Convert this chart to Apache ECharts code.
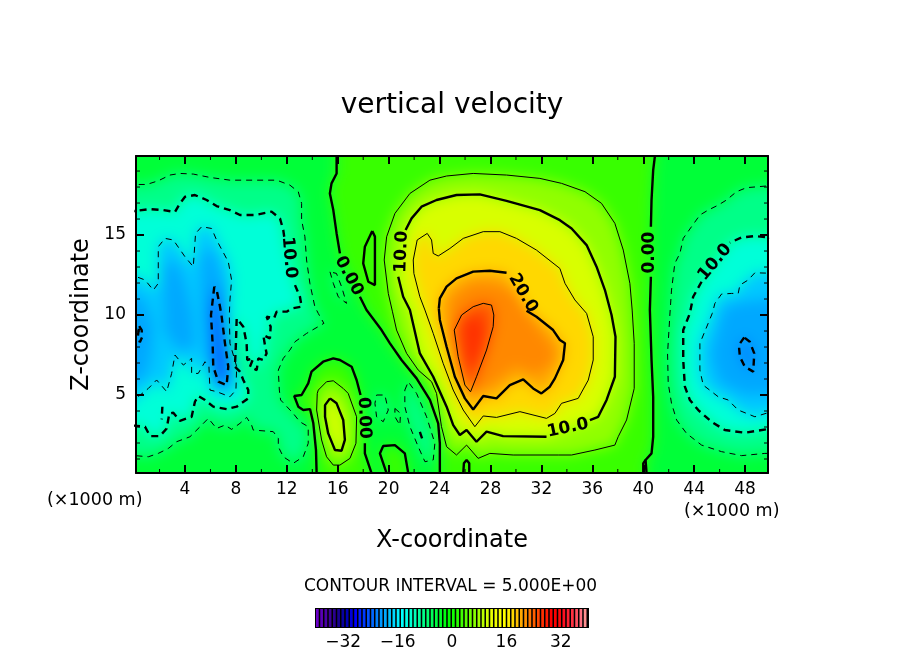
<!DOCTYPE html>
<html>
<head>
<meta charset="utf-8">
<style>
html,body{margin:0;background:#fff}
#shade,#main{position:absolute;left:0;top:0;width:904px;height:654px}
#shade{filter:blur(7px);clip-path:inset(156px 136px 181px 136px)}
</style>
<script src="https://cdn.jsdelivr.net/npm/echarts@6/dist/echarts.min.js"></script>
</head>
<body>
<div id="shade"></div>
<div id="main"></div>
<script>
// axis ticks
var xMajor = [4, 8, 12, 16, 20, 24, 28, 32, 36, 40, 44, 48];
var xMinor = [2, 6, 10, 14, 18, 22, 26, 30, 34, 38, 42, 46];
var zMajor = [5, 10, 15];
var zMinor = [1, 2, 3, 4, 6, 7, 8, 9, 11, 12, 13, 14, 16, 17, 18, 19];

// contour paths as [x, z] in km
var zeroMainA = [[15.91,19.9],[15.91,18.85],[15.51,18.23],[15.38,17.6],[15.65,16.56],[15.91,15.1],[16.17,13.85]];
var zeroMainB = [[17.74,11.14],[18.26,10.31],[19.44,9.06],[20.1,8.23],[21.01,7.19],[22.19,6.04],[23.24,4.69],[23.89,3.23],[24.02,1.98],[24.02,0.73],[24.02,0.1]];
var zeroRightA = [[40.91,19.9],[40.78,19.06],[40.65,17.19],[40.6,15.52]];
var zeroRightB = [[40.6,12.39],[40.52,10.31],[40.65,7.19],[40.78,4.89],[40.78,2.39],[40.65,1.35],[40.18,0.94],[40.26,0.1]];
var zeroRightFork = [[40.18,0.94],[40,0.73],[40,0.1]];
var zeroBlobA = [[14.34,0.1],[14.29,1.56],[14.08,3.23],[13.82,4.12],[13.29,4.06],[12.9,4.27],[12.58,4.94],[13.16,5],[13.68,5.73],[13.94,6.46],[14.85,7.08],[15.65,7.29],[16.17,7.19],[17.09,6.77],[17.48,5.94],[17.79,5]];
var zeroBlobB = [[18.13,1.98],[18.13,1.35],[18.66,0.1]];
var zeroDome = [[19.84,0.1],[19.31,1.35],[19.57,1.81],[20.49,1.87],[21.27,1.35],[21.54,0.1]];
var zeroNub = [[25.86,0.1],[25.91,0.73],[26.12,0.94],[26.33,0.73],[26.33,0.1]];
var zeroLens = [[18.71,15.25],[18.13,14.27],[18,13.23],[18.4,12.08],[18.92,11.87],[18.92,13.64],[18.92,14.9],[18.71,15.25]];

var pos5Main = [[20.3,10.2],[20.62,9.06],[21.41,7.6],[22.32,6.56],[23.37,5.83],[23.76,5.1],[24.15,3.02],[24.55,1.77],[25.33,1.25],[26.12,1.87],[27.03,1.04],[27.95,1.35],[29.78,1.25],[33.32,1.25],[34.37,1.25],[36.2,1.56],[37.77,1.87],[38.03,2.39],[38.69,3.44],[39.29,5.41],[39.29,8.23],[39.13,10.31],[38.95,11.98],[38.43,14.06],[37.77,15.73],[36.72,16.98],[35.42,17.71],[33.58,18.23],[31.88,18.54],[29.26,18.75],[26.64,18.85],[24.55,18.69],[23.24,18.43],[21.67,17.6],[20.49,16.35],[19.84,14.89],[19.65,13.44],[19.97,11.35],[20.3,10.2]];
var pos5Blob = [[14.39,5.1],[14.47,5.31],[15.12,5.83],[15.65,5.89],[16.43,5.41],[16.82,5.1],[17.48,3.64],[17.43,1.98],[16.96,1.04],[16.17,0.62],[15.65,0.62],[15.12,1.14],[14.73,2.19],[14.34,4.06],[14.39,5.1]];
var pos10Blob = [[15.39,4.79],[15,4.37],[15,3.64],[15.25,2.6],[15.78,1.56],[16.3,1.52],[16.56,2.19],[16.43,3.44],[15.91,4.48],[15.39,4.79]];
var pos10A = [[21.33,15.31],[21.8,16.04],[22.58,16.77],[23.76,17.19],[25.33,17.5],[27.16,17.54],[29.26,17.14],[31.88,16.56],[33.45,15.93],[34.37,15.41],[35.55,14.37],[36.33,13.02],[36.99,11.56],[37.51,10],[37.82,8.64],[37.77,6.14],[37.12,4.69],[36.46,3.64],[35.81,3.43]];
var pos10B = [[32.4,2.39],[28.99,2.43],[27.69,2.71],[26.9,2.08],[26.12,2.81],[25.59,2.5],[25.07,3.12],[24.55,4.27],[23.5,6.14],[22.45,7.6],[21.67,10.31],[21.14,11.14],[20.75,12.39]];
var pos15 = [[21.98,12.6],[21.93,13.44],[22.24,14.69],[23.03,15.1],[23.37,14.69],[23.5,13.85],[23.89,13.69],[24.81,14.16],[25.86,14.79],[27.43,15.21],[28.74,15.21],[30.04,14.79],[31.61,14.06],[33.45,12.91],[33.85,11.98],[34.63,10.94],[35.55,10.1],[36.07,8.64],[36.07,7.19],[35.68,5.93],[34.89,4.79],[33.58,4.48],[33.06,3.85],[32.4,3.54],[30.31,3.96],[28.47,3.6],[27.43,3.69],[26.77,3.02],[25.86,4.06],[25.07,5.31],[24.28,6.98],[23.5,8.85],[22.85,10.31],[22.45,11.14],[21.98,12.6]];
var pos20A = [[23.94,10.41],[24.02,11.04],[24.55,11.77],[25.33,12.29],[26.64,12.71],[27.95,12.77],[29.26,12.64]];
var pos20B = [[30.83,10.27],[31.61,9.89],[32.92,9.06],[33.45,8.44],[33.85,8.23],[33.71,7.19],[33.06,6.04],[32.66,5.52],[32,5.1],[31.35,5.41],[30.57,5.98],[29.52,5.62],[28.47,4.79],[27.43,4.94],[26.64,4.1],[25.99,4.79],[25.2,6.14],[24.55,8.02],[24.02,9.69],[23.94,10.41]];
var pos25 = [[25.73,10],[26.64,10.52],[27.43,10.73],[28.08,10.62],[28.26,10],[28.21,9.27],[27.69,7.81],[26.9,6.14],[26.43,5.2],[25.99,5.62],[25.46,7.39],[25.15,9.06],[25.73,10]];

var neg5Left = [[-0.5,18.16],[0.99,18.16],[1.9,18.39],[2.82,18.75],[3.6,18.85],[4.65,18.81],[5.96,18.6],[7.53,18.43],[9.36,18.43],[11.2,18.43],[12.24,18.12],[12.9,17.7],[13.16,16.98],[13.16,15.94],[13.42,14.89],[13.55,13.44],[13.81,11.98],[14.2,10.52],[14.47,10.1],[14.91,9.48],[13.55,8.85],[12.64,8.33],[12.24,7.81],[11.72,7.29],[11.33,6.56],[11.41,5.31],[11.51,4.69],[12.5,3.85],[13.02,3.33],[13.68,3.02],[13.68,1.98],[13.29,1.14],[12.5,0.73],[11.72,1.14],[11.33,1.77],[11.33,2.29],[10.93,2.71],[9.36,2.81],[9.23,3.12],[8.84,3.6],[8.32,3.23],[7.66,2.85],[7.14,3.12],[6.48,2.91],[5.83,3.54],[5.31,3.12],[4.39,2.39],[3.34,2.08],[2.69,1.66],[1.9,1.35],[1.12,1.14],[-0.5,1.25]];
var neg5Small = [[15.39,12.7],[15.65,11.98],[16.04,11.14],[16.69,10.73],[16.3,11.77],[15.9,12.6],[15.39,12.7]];
var neg5LoopA = [[19.05,5],[19.7,5],[19.97,4.06],[19.57,3.33],[19.05,3.64],[18.92,4.48],[19.05,5]];
var neg5LoopB = [[20.49,4.16],[20.93,3.85],[20.88,3.12],[20.49,3.64],[20.49,4.16]];
var neg5LoopC = [[21.27,5.31],[21.54,5.83],[22.19,5.1],[22.98,3.64],[23.63,1.98],[23.5,0.94],[22.85,0.83],[22.32,1.77],[21.67,3.02],[21.27,4.27],[21.27,5.31]];
var neg5Right = [[50.5,18.12],[48.11,17.96],[47.33,17.71],[46.54,17.19],[45.89,16.87],[45.1,16.56],[44.45,16.25],[43.79,15.52],[43.14,14.79],[42.88,13.85],[42.48,13.23],[42.22,11.56],[42.09,10],[41.91,7.6],[41.96,5.73],[42.22,4.48],[42.62,3.44],[43.4,2.6],[44.58,1.87],[46.15,1.46],[47.72,1.21],[49.55,1.35],[50.5,1.35]];

var neg10LeftA = [[-0.5,16.45],[1.25,16.62],[2.3,16.56],[3.21,16.44],[3.6,16.98],[4,17.39],[4.78,17.5],[5.7,17.19],[6.48,16.81],[7.53,16.56],[8.32,16.25],[9.49,16.25],[10.8,16.46],[11.46,16.04],[11.72,15.31],[11.85,14.58]];
var neg10LeftB = [[12.64,11.87],[13.03,11.14],[13.16,10.52],[12.38,10.41],[11.98,10.21],[11.2,10.21],[10.99,9.79],[10.41,9.89],[10.73,9.27],[10.67,8.54],[10.15,8.75],[10.28,8.12],[10.41,7.6],[10.15,7.19],[9.76,7.29],[9.63,6.56],[9.1,6.77],[9.36,7.29],[8.89,7.19],[8.84,8.23],[8.58,9.27],[8.06,9.79],[8,8.23],[7.92,6.77],[8.32,6.46],[8.58,5.94],[8.97,5.31],[8.97,4.79],[8.06,4.27],[7.27,4.12],[6.22,4.27],[5.57,4.69],[5.04,4.94],[4.78,4.58],[4.52,3.64],[3.6,3.39],[3.08,3.89],[2.77,3.85],[2.56,2.91],[2.03,2.43],[1.25,2.43],[0.86,3.02],[-0.5,3.12]];
var neg10Piece = [[2.22,4.27],[2.17,3.48]];
var neg10Valley = [[22.45,2.7],[22.71,2.08]];
var neg10RightA = [[50.5,14.79],[48.77,14.94],[47.72,14.85],[46.8,14.52]];
var neg10RightB = [[44.58,12.08],[43.92,11.14],[43.66,10.1],[43.14,9.06],[43.14,7.19],[43.27,5.52],[43.66,4.69],[44.32,4.06],[45.36,3.33],[46.41,2.81],[47.98,2.64],[50.5,2.96]];

var neg15Left = [[-0.5,12.6],[0.86,12.19],[1.51,11.56],[1.9,11.98],[1.9,14.27],[2.43,14.79],[3.08,14.69],[4,13.64],[4.65,13.02],[4.83,15.1],[5.31,15.52],[6.09,15.41],[6.48,14.69],[7.4,13.33],[7.66,12.19],[7.53,10.94],[7.48,10],[7.53,8.23],[8.06,6.77],[8,5.31],[7.53,4.89],[6.48,5.21],[5.96,5.31],[5.88,6.77],[5.57,7.08],[5.04,6.35],[4.52,6.35],[4.52,7.29],[3.87,6.87],[3.21,7.5],[2.95,6.35],[2.56,5.21],[1.77,5.94],[1.12,5.41],[-0.5,4.37]];
var neg15Right = [[50.5,12.6],[48.77,12.64],[48.24,12.19],[47.59,11.87],[47.46,11.35],[46.93,11.35],[46.15,11.31],[45.63,10.73],[45.42,10.1],[45.1,9.48],[44.45,8.23],[44.45,6.56],[44.71,5.62],[45.89,4.89],[46.67,4.69],[47.46,4.06],[48.77,3.64],[50.5,4.06]];

var neg20Left = [[6.3,11.77],[6.04,10],[6.17,8.23],[6.22,6.77],[6.62,5.83],[7.27,5.62],[7.4,6.77],[7.14,8.23],[6.88,9.9],[6.75,10.52],[6.5,11.5],[6.3,11.77]];
var neg20Edge = [[0.4,9.3],[0.6,9.05],[0.62,8.6],[0.45,8.3],[0.3,8.7],[0.4,9.3]];
var neg20Right = [[47.93,8.6],[47.51,8.12],[47.59,7.39],[47.98,6.77],[48.64,6.46],[48.72,7.6],[48.37,8.33],[47.93,8.6]];

// extra shading levels between the drawn contours
var shadeOrange = [[24.8,11],[26.5,12],[28,12],[30,11.5],[32,9],[33,8],[33,7],[31.5,6.2],[30,6.8],[28,5.6],[26.5,5],[25.5,6.5],[24.8,9]];
var shadeRed = [[25.8,9.6],[27,10],[27.6,9],[27.2,7.5],[26.5,6.3],[26,7.5]];
var shadeLeftA = [[2.3,13],[3.2,13.5],[4,12],[4.6,10],[4.8,8],[3.5,7.8],[2.4,9]];
var shadeLeftB = [[-3,12],[0.8,11],[1.5,9.5],[1.4,7.5],[0.8,6],[-3,5.5]];
var shadeLeftC = [[5.3,14],[6.2,14],[7.2,11.5],[7.4,8],[7.5,5.5],[6.2,5.6],[5.6,8],[5.3,11]];
var shadeRight = [[46.3,10.4],[47.5,10.8],[53,11.2],[53,5.2],[48,5],[46,5.8],[45.3,7.5]];

// colour of the band just beyond each level
var levelColors = {
  '-24': '#0060ff', '-20': '#0088ff', '-17.5': '#00a8ff', '-15': '#00c8ff', '-10': '#00ffd8', '-5': '#00ff88', '-1': '#00ff38', '0': '#38ff00',
  '5': '#90ff00', '10': '#d8ff00', '15': '#ffd800', '20': '#ffa800', '22.5': '#ff8800', '25': '#ff5000', '27': '#ff3000'
};

// colour bar levels and their colours
var barLevels = [-40,-38.75,-37.5,-36.25,-35,-33.75,-32.5,-31.25,-30,-28.75,-27.5,-26.25,-25,-23.75,-22.5,-21.25,-20,-18.75,-17.5,-16.25,-15,-13.75,-12.5,-11.25,-10,-8.75,-7.5,-6.25,-5,-3.75,-2.5,-1.25,0,1.25,2.5,3.75,5,6.25,7.5,8.75,10,11.25,12.5,13.75,15,16.25,17.5,18.75,20,21.25,22.5,23.75,25,26.25,27.5,28.75,30,31.25,32.5,33.75,35,36.25,37.5,38.75];
var barColors = ['#6a00c8','#5a00b8','#4a00a8','#3c0098','#2a0090','#180090','#0800a0','#0000b8','#0000d8','#0000ff','#0020ff','#0038ff','#0050ff','#0068ff','#0080ff','#0098ff','#00a8ff','#00c0ff','#00d8ff','#00f0ff','#00ffff','#00ffe8','#00ffd0','#00ffb8','#00ffa0','#00ff88','#00ff70','#00ff58','#00ff40','#00ff28','#00ff10','#00ff00','#10ff00','#28ff00','#40ff00','#58ff00','#70ff00','#88ff00','#a0ff00','#b8ff00','#d0ff00','#e8ff00','#f0ff00','#f8ff00','#ffff00','#fff000','#ffd800','#ffc000','#ffa800','#ff9000','#ff7800','#ff6000','#ff4800','#ff3000','#ff1800','#ff0000','#ff0000','#ff0808','#ff1020','#ff2030','#ff3040','#ff5060','#ff7080','#ff9090'];
var barTicks = [-32, -16, 0, 16, 32];

// contour labels
var labelX = [12.17, 16.87, 21.02, 30.55, 34.08, 18.06, 40.5, 45.63];
var labelZ = [13.6, 12.44, 13.95, 11.37, 2.94, 3.56, 13.9, 13.3];
var labelText = ['10.0', '0.00', '10.0', '20.0', '10.0', '0.00', '0.00', '10.0'];
var labelAngle = [-85, -62, 88, -60, 12, -88, 90, 50];

var xMin = 0.15, xMax = 49.8, zMin = 0.125, zMax = 19.94;
var fontName = '"DejaVu Sans"';

var lines = [
  [zeroMainA, 0], [zeroMainB, 0], [zeroRightA, 0], [zeroRightB, 0], [zeroRightFork, 0], [zeroBlobA, 0], [zeroBlobB, 0], [zeroDome, 0], [zeroNub, 0], [zeroLens, 0],
  [pos5Main, 5], [pos5Blob, 5], [pos10Blob, 10], [pos10A, 10], [pos10B, 10], [pos15, 15], [pos20A, 20], [pos20B, 20], [pos25, 25],
  [neg5Left, -5], [neg5Small, -5], [neg5LoopA, -5], [neg5LoopB, -5], [neg5LoopC, -5], [neg5Right, -5],
  [neg10LeftA, -10], [neg10LeftB, -10], [neg10Piece, -10], [neg10Valley, -10], [neg10RightA, -10], [neg10RightB, -10],
  [neg15Left, -15], [neg15Right, -15], [neg20Left, -20], [neg20Edge, -20], [neg20Right, -20]
];

// filled regions, painted in this order
var fills = [
  [[[-3,22],[15.91,22]].concat(zeroMainA, zeroMainB, [[24.02,-2],[-3,-2]]), '-1'],
  [[[53,22],[40.91,22]].concat(zeroRightA, zeroRightB, [[40.26,-2],[53,-2]]), '-1'],
  [[[15.91,22]].concat(zeroMainA, zeroMainB, [[24.02,-2],[40.26,-2]], zeroRightB.slice().reverse(), zeroRightA.slice().reverse(), [[40.91,22]]), '0'],
  [[[14.34,-2]].concat(zeroBlobA, zeroBlobB, [[18.66,-2]]), '0'],
  [zeroDome.concat([[21.54,-2],[19.84,-2]]), '0'],
  [zeroLens, '0'],
  [neg5Left.concat([[-3,1.25],[-3,18.16]]), '-5'],
  [neg5Right.concat([[53,1.35],[53,18.12]]), '-5'],
  [neg5LoopC, '-5'], [neg5LoopA, '-5'], [neg5LoopB, '-5'], [neg5Small, '-5'],
  [neg10LeftA.concat(neg10LeftB, [[-3,3.12],[-3,16.45]]), '-10'],
  [neg10RightA.concat(neg10RightB, [[53,2.96],[53,14.79]]), '-10'],
  [neg15Left.concat([[-3,4.37],[-3,12.6]]), '-15'],
  [neg15Right.concat([[53,4.06],[53,12.6]]), '-15'],
  [shadeLeftA, '-17.5'], [shadeLeftB, '-17.5'], [shadeLeftC, '-17.5'], [shadeRight, '-17.5'],
  [neg20Left, '-24'], [neg20Edge, '-20'], [neg20Right, '-20'],
  [pos5Main, '5'], [pos5Blob, '5'], [pos10Blob, '10'],
  [pos10A.concat(pos10B), '10'],
  [pos15, '15'],
  [pos20A.concat(pos20B), '20'],
  [shadeOrange, '22.5'],
  [pos25, '25'],
  [shadeRed, '27']
];

function renderFill(params, api) {
  var item = fills[params.dataIndex];
  return {
    type: 'polygon',
    shape: { points: item[0].map(function (p) { return api.coord(p); }) },
    style: { fill: levelColors[item[1]] }
  };
}

function renderMinorTicks(params, api) {
  var isX = params.seriesName === 'xMinor';
  var v = api.value(0);
  var a = isX ? api.coord([v, zMin]) : api.coord([xMin, v]);
  var b = isX ? api.coord([v, zMax]) : api.coord([xMax, v]);
  var dx = isX ? 0 : 4, dy = isX ? 4 : 0;
  var st = { stroke: '#000', lineWidth: 1 };
  return {
    type: 'group',
    children: [
      { type: 'line', shape: { x1: a[0], y1: a[1], x2: a[0] + dx, y2: a[1] - dy }, style: st },
      { type: 'line', shape: { x1: b[0], y1: b[1], x2: b[0] - dx, y2: b[1] + dy }, style: st }
    ]
  };
}

function renderBar(params, api) {
  var a = api.coord([api.value(0), 1]);
  var b = api.coord([api.value(0) + 0.8, 0]);
  return {
    type: 'rect',
    shape: { x: a[0], y: a[1], width: b[0] - a[0], height: b[1] - a[1] },
    style: { fill: barColors[params.dataIndex] }
  };
}

// the soft colour field sits in its own chart, under the contours
var shadeChart = echarts.init(document.getElementById('shade'), null, { renderer: 'canvas' });
shadeChart.setOption({
  animation: false,
  grid: { left: 136, right: 136, top: 156, bottom: 181 },
  xAxis: { type: 'value', min: xMin, max: xMax, show: false },
  yAxis: { type: 'value', min: zMin, max: zMax, show: false },
  series: [{ type: 'custom', clip: false, silent: true, renderItem: renderFill, data: fills.map(function (f, i) { return [i, 1]; }) }]
});

var series = [];
lines.forEach(function (l) {
  var thick = l[1] % 10 === 0;
  series.push({
    type: 'line', z: 2, silent: true, showSymbol: false, symbol: 'none', xAxisIndex: 0, yAxisIndex: 0,
    data: l[0],
    lineStyle: { color: '#000', width: thick ? 2.4 : 1, type: l[1] < 0 ? (thick ? [7, 5] : [6, 5]) : 'solid' }
  });
});

series.push({
  type: 'scatter', z: 3, silent: true, symbolSize: 0, xAxisIndex: 0, yAxisIndex: 0,
  itemStyle: { opacity: 1 },
  data: labelX.map(function (x, i) {
    return {
      value: [x, labelZ[i]],
      label: { show: true, position: 'inside', formatter: labelText[i], rotate: labelAngle[i], color: '#000', fontFamily: fontName, fontSize: 17, fontWeight: 'bold' }
    };
  })
});
series.push({ type: 'custom', name: 'xMinor', z: 4, silent: true, renderItem: renderMinorTicks, data: xMinor.map(function (v) { return [v, 1]; }), xAxisIndex: 0, yAxisIndex: 0 });
series.push({ type: 'custom', name: 'zMinor', z: 4, silent: true, renderItem: renderMinorTicks, data: zMinor.map(function (v) { return [v, 1]; }), xAxisIndex: 0, yAxisIndex: 0 });
series.push({ type: 'custom', name: 'bar', silent: true, renderItem: renderBar, data: barLevels.map(function (v) { return [v, 1]; }), xAxisIndex: 2, yAxisIndex: 2 });

var tickStyle = { show: true, inside: true, length: 8, lineStyle: { color: '#000', width: 2 } };
var frameLine = { show: true, onZero: false, lineStyle: { color: '#000', width: 2 } };

var chart = echarts.init(document.getElementById('main'), null, { renderer: 'canvas' });
chart.setOption({
  animation: false,
  title: {
    text: 'vertical velocity', left: 'center', top: 87,
    textStyle: { color: '#000', fontFamily: fontName, fontWeight: 'normal', fontSize: 28 }
  },
  grid: [
    { left: 136, right: 136, top: 156, bottom: 181, show: false },
    { left: 316, width: 272, top: 609, height: 18, show: true, backgroundColor: '#000', borderColor: '#000', borderWidth: 2 }
  ],
  xAxis: [
    {
      type: 'value', gridIndex: 0, position: 'bottom', min: xMin, max: xMax, z: 10,
      name: 'X-coordinate', nameLocation: 'middle', nameGap: 56,
      nameTextStyle: { color: '#000', fontFamily: fontName, fontSize: 24 },
      axisLine: frameLine, splitLine: { show: false },
      axisTick: Object.assign({ customValues: xMajor }, tickStyle),
      axisLabel: { customValues: xMajor, color: '#000', fontFamily: fontName, fontSize: 17, margin: 8 }
    },
    {
      type: 'value', gridIndex: 0, position: 'top', min: xMin, max: xMax, z: 10,
      axisLine: frameLine, splitLine: { show: false },
      axisTick: Object.assign({ customValues: xMajor }, tickStyle),
      axisLabel: { show: false }
    },
    {
      type: 'value', gridIndex: 1, min: -40, max: 40,
      axisLine: { show: false }, axisTick: { show: false }, splitLine: { show: false },
      axisLabel: {
        customValues: barTicks, color: '#000', fontFamily: fontName, fontSize: 17, margin: 7,
        formatter: function (v) { return v < 0 ? '\u2212' + Math.abs(v) : String(v); }
      }
    }
  ],
  yAxis: [
    {
      type: 'value', gridIndex: 0, position: 'left', min: zMin, max: zMax, z: 10,
      name: 'Z-coordinate', nameLocation: 'middle', nameGap: 39,
      nameTextStyle: { color: '#000', fontFamily: fontName, fontSize: 24 },
      axisLine: frameLine, splitLine: { show: false },
      axisTick: Object.assign({ customValues: zMajor }, tickStyle),
      axisLabel: { customValues: zMajor, color: '#000', fontFamily: fontName, fontSize: 17, margin: 10 }
    },
    {
      type: 'value', gridIndex: 0, position: 'right', min: zMin, max: zMax, z: 10,
      axisLine: frameLine, splitLine: { show: false },
      axisTick: Object.assign({ customValues: zMajor }, tickStyle),
      axisLabel: { show: false }
    },
    {
      type: 'value', gridIndex: 1, min: 0, max: 1,
      axisLine: { show: false }, axisTick: { show: false }, axisLabel: { show: false }, splitLine: { show: false }
    }
  ],
  graphic: [
    { type: 'text', left: 47, top: 491, style: { text: '(\u00d71000 m)', fill: '#000', font: '17.5px ' + fontName } },
    { type: 'text', left: 684, top: 502, style: { text: '(\u00d71000 m)', fill: '#000', font: '17.5px ' + fontName } },
    { type: 'text', left: 304, top: 578, style: { text: 'CONTOUR INTERVAL = 5.000E+00', fill: '#000', font: '17px ' + fontName } }
  ],
  series: series
});
</script>
</body>
</html>
